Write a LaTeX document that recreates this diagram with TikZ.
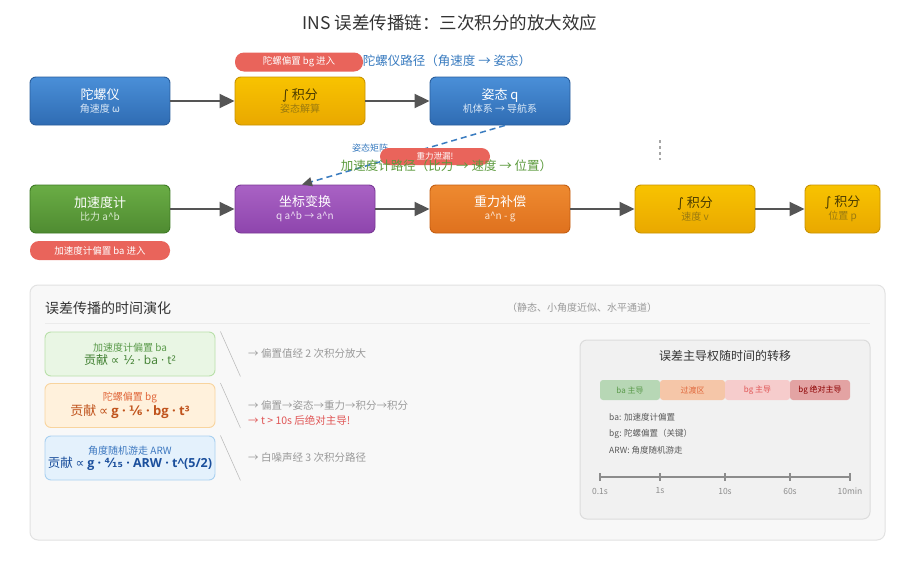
\documentclass[tikz,border=0pt]{standalone}
\usepackage{fontspec}
\setmainfont{Noto Sans CJK SC}
\newfontfamily\symf{DejaVu Sans}
\newfontfamily\formf{Open Sans}
\usetikzlibrary{arrows.meta}

\definecolor{titlegray}{HTML}{333333}
\definecolor{arrowgray}{HTML}{555555}
\definecolor{bluetop}{HTML}{4A8FD8}
\definecolor{bluebot}{HTML}{2F6CB3}
\definecolor{blueline}{HTML}{2A5E9C}
\definecolor{goldtop}{HTML}{F8C300}
\definecolor{goldbot}{HTML}{E9A800}
\definecolor{goldline}{HTML}{C99300}
\definecolor{goldtext}{HTML}{4A3B00}
\definecolor{goldsub}{HTML}{9A7A10}
\definecolor{greentop}{HTML}{6AAD45}
\definecolor{greenbot}{HTML}{4F8B31}
\definecolor{greenline}{HTML}{3E7A24}
\definecolor{purptop}{HTML}{A962C4}
\definecolor{purpbot}{HTML}{8E45AD}
\definecolor{purpline}{HTML}{7A3996}
\definecolor{orangetop}{HTML}{EE8A30}
\definecolor{orangebot}{HTML}{DF711E}
\definecolor{orangeline}{HTML}{C45E12}
\definecolor{pillred}{HTML}{E9645B}
\definecolor{pathblue}{HTML}{3A7CC0}
\definecolor{pathgreen}{HTML}{5B9A3C}
\definecolor{panelfill}{HTML}{F8F8F8}
\definecolor{panelline}{HTML}{E2E2E2}
\definecolor{innerfill}{HTML}{F1F1F1}
\definecolor{innerline}{HTML}{DCDCDC}
\definecolor{notegray}{HTML}{9A9A9A}
\definecolor{notered}{HTML}{E05555}
\definecolor{bafill}{HTML}{E9F6E4}
\definecolor{baline}{HTML}{B9E0AA}
\definecolor{batext}{HTML}{5A9A4A}
\definecolor{badark}{HTML}{3F7F30}
\definecolor{bgfill}{HTML}{FFF1DC}
\definecolor{bgline}{HTML}{F8D49E}
\definecolor{bgtext}{HTML}{E0663A}
\definecolor{bgdark}{HTML}{C0531C}
\definecolor{arwfill}{HTML}{E4F1FC}
\definecolor{arwline}{HTML}{A9D0F0}
\definecolor{arwtext}{HTML}{3D78C0}
\definecolor{arwdark}{HTML}{1B4F9C}
\definecolor{segba}{HTML}{B7D7B5}
\definecolor{segtr}{HTML}{F5C6A8}
\definecolor{segbg}{HTML}{F6CCCC}
\definecolor{segbgx}{HTML}{E3A3A3}

\newcommand{\blocktext}[3]{{\fontsize{13}{15}\selectfont #1}\\[1pt]{\fontsize{10}{12}\selectfont\color{#3}#2}}
\newcommand{\intsym}{{\symf ∫}}
\newcommand{\hatb}{\textasciicircum}

\begin{document}
\begin{tikzpicture}[x=1pt,y=-1pt]
  \tikzstyle{block}=[rounded corners=6pt, minimum width=140pt, minimum height=48pt, align=center, inner sep=1pt, line width=0.9pt, text=white]
  \tikzstyle{bluebox}=[block, top color=bluetop, bottom color=bluebot, draw=blueline]
  \tikzstyle{goldbox}=[block, top color=goldtop, bottom color=goldbot, draw=goldline, text=goldtext]
  \tikzstyle{greenbox}=[block, top color=greentop, bottom color=greenbot, draw=greenline]
  \tikzstyle{purplebox}=[block, top color=purptop, bottom color=purpbot, draw=purpline]
  \tikzstyle{orangebox}=[block, top color=orangetop, bottom color=orangebot, draw=orangeline]
  \tikzstyle{pill}=[rounded corners=9pt, fill=pillred, text=white, minimum height=19pt, inner sep=0pt, font=\fontsize{9.5}{11}\selectfont]
  \tikzstyle{flow}=[arrowgray, line width=2pt, -{Triangle[length=15pt,width=14pt]}]
  \tikzstyle{errbox}=[rounded corners=6pt, minimum width=170pt, minimum height=44pt, align=center, inner sep=1pt, line width=0.9pt]
  \tikzstyle{slash}=[draw=black!25, line width=0.6pt]
  \tikzstyle{note}=[anchor=west, text=notegray, inner sep=0pt, font=\fontsize{10.5}{12}\selectfont]
  \tikzstyle{seg}=[rounded corners=3pt, minimum height=20pt, inner sep=0pt, font=\fontsize{8}{9}\selectfont]
  \tikzstyle{legend}=[anchor=west, text=black!65, inner sep=0pt, font=\fontsize{8.5}{10}\selectfont]

  \useasboundingbox[fill=white] (0,0) rectangle (900,560);

  \node[text=titlegray, font=\fontsize{17.5}{20}\selectfont] (title) at (450,23) {INS 误差传播链：三次积分的放大效应};

  % gyro path
  \node[bluebox] (gyro) at (100,101) {\blocktext{陀螺仪}{角速度 ω}{white!80!bluetop}};
  \node[goldbox, minimum width=130pt] (intatt) at (300,101) {\blocktext{\intsym\ 积分}{姿态解算}{goldsub}};
  \node[bluebox] (att) at (500,101) {\blocktext{姿态 q}{机体系 → 导航系}{white!80!bluetop}};

  \draw[flow] (gyro) -- (intatt);
  \draw[flow] (intatt) -- (att);

  \node[pill, minimum width=128pt] (bgin) at (299,62) {陀螺偏置 bg 进入};
  \node[text=pathblue, font=\fontsize{12.5}{14}\selectfont] (gyropath) at (447,61) {陀螺仪路径（角速度 → 姿态）};

  % accelerometer path
  \node[greenbox] (acc) at (100,209) {\blocktext{加速度计}{比力 a\hatb b}{white!75!greentop}};
  \node[purplebox] (trans) at (305,209) {\blocktext{坐标变换}{q a\hatb b → a\hatb n}{white!80!purptop}};
  \node[orangebox] (grav) at (500,209) {\blocktext{重力补偿}{a\hatb n - g}{white!80!orangetop}};
  \node[goldbox, minimum width=120pt] (intvel) at (695,209) {\blocktext{\intsym\ 积分}{速度 v}{goldsub}};
  \node[goldbox, minimum width=75pt] (intpos) at (842.5,209) {\blocktext{\intsym\ 积分}{位置 p}{goldsub}};

  \draw[flow] (acc) -- (trans);
  \draw[flow] (trans) -- (grav);
  \draw[flow] (grav) -- (intvel);
  \draw[flow] (intvel) -- (intpos);

  \node[pill, minimum width=140pt] (bain) at (100,250.5) {加速度计偏置 ba 进入};

  \draw[pathblue, line width=1.5pt, dash pattern=on 6pt off 4pt, -{Triangle[length=10pt,width=9pt,color=arrowgray]}]
    ([xshift=5pt]att.south) -- ([xshift=-3pt]trans.north);
  \node[text=pathblue, font=\fontsize{9}{10}\selectfont] (matlabel) at (370,148) {姿态矩阵};
  \node[pill, minimum width=110pt, minimum height=17pt, rounded corners=8.5pt, font=\fontsize{8.5}{10}\selectfont] (leak) at (435,156.5) {重力泄漏!};
  \node[text=pathgreen, font=\fontsize{12.5}{14}\selectfont] (accpath) at (446.5,166) {加速度计路径（比力 → 速度 → 位置）};

  \draw[black!35, line width=1.5pt, dash pattern=on 3pt off 3pt] (660,140) -- (660,160);

  % error evolution panel
  \draw[rounded corners=8pt, fill=panelfill, draw=panelline, line width=1pt] (30,285) rectangle (885,540);
  \node[anchor=west, text=titlegray, inner sep=0pt, font=\fontsize{14}{16}\selectfont] (evotitle) at (45,308) {误差传播的时间演化};
  \node[text=notegray, font=\fontsize{10}{12}\selectfont] (evonote) at (582,308) {（静态、小角度近似、水平通道）};
  \draw[black!8, line width=0.8pt] (45,323) -- (870,323);

  \node[errbox, fill=bafill, draw=baline] (ba) at (130,354)
    {{\fontsize{10}{12}\selectfont\color{batext}加速度计偏置 ba}\\[1pt]
     {\fontsize{12}{14}\selectfont\color{badark}贡献 {\symf ∝ ½} {\formf · ba · t²}}};
  \node[errbox, fill=bgfill, draw=bgline] (bg) at (130,405.5)
    {{\fontsize{10}{12}\selectfont\color{bgtext}陀螺偏置 bg}\\[1pt]
     {\fontsize{13}{15}\selectfont\color{bgdark}贡献 {\symf ∝} {\formf\bfseries g · {\symf ⅙} · bg · t³}}};
  \node[errbox, fill=arwfill, draw=arwline] (arw) at (130,458)
    {{\fontsize{10}{12}\selectfont\color{arwtext}角度随机游走 ARW}\\[1pt]
     {\fontsize{12.5}{15}\selectfont\color{arwdark}贡献 {\symf ∝} {\formf\bfseries g · {\symf ⁴⁄₁₅} · ARW · t\textasciicircum(5/2)}}};

  \draw[slash] ([xshift=5pt]ba.north east) -- ([xshift=25pt]ba.south east);
  \draw[slash] ([xshift=5pt]bg.north east) -- ([xshift=25pt]bg.south east);
  \draw[slash] ([xshift=5pt]arw.north east) -- ([xshift=25pt]arw.south east);

  \node[note] (banote) at (248,354) {→ 偏置值经 2 次积分放大};
  \node[note] (bgnote) at (248,406) {→ 偏置→姿态→重力→积分→积分};
  \node[note, text=notered] (bgwarn) at (248,420) {→ t > 10s 后绝对主导!};
  \node[note] (arwnote) at (248,458) {→ 白噪声经 3 次积分路径};

  % dominance shift
  \draw[rounded corners=7pt, fill=innerfill, draw=innerline, line width=1pt] (580,340) rectangle (870,519);
  \node[text=titlegray, font=\fontsize{12}{14}\selectfont] (shifttitle) at (725,356) {误差主导权随时间的转移};

  \node[seg, fill=segba, text=batext, minimum width=60pt] (sba) at (630,390) {ba 主导};
  \node[seg, fill=segtr, text=bgtext, minimum width=65pt] (str) at (692.5,390) {过渡区};
  \node[seg, fill=segbg, text=notered, minimum width=65pt] (sbg) at (757.5,390) {bg 主导};
  \node[seg, fill=segbgx, text=red!55!black, minimum width=60pt] (sbgx) at (820,390) {bg 绝对主导};

  \node[legend] (leg1) at (609,417) {ba: 加速度计偏置};
  \node[legend] (leg2) at (609,434) {bg: 陀螺偏置（关键）};
  \node[legend] (leg3) at (609,450) {ARW: 角度随机游走};

  \draw[black!45, line width=2.2pt] (600,477) -- (850,477);
  \foreach \x/\t in {600/0.1s, 660/1s, 725/10s, 790/60s, 850/10min} {
    \draw[black!45, line width=1.2pt] (\x,473) -- (\x,481);
    \node[text=black!45, font=\fontsize{8.5}{10}\selectfont] at (\x,491) {\t};
  }

\end{tikzpicture}
\end{document}
